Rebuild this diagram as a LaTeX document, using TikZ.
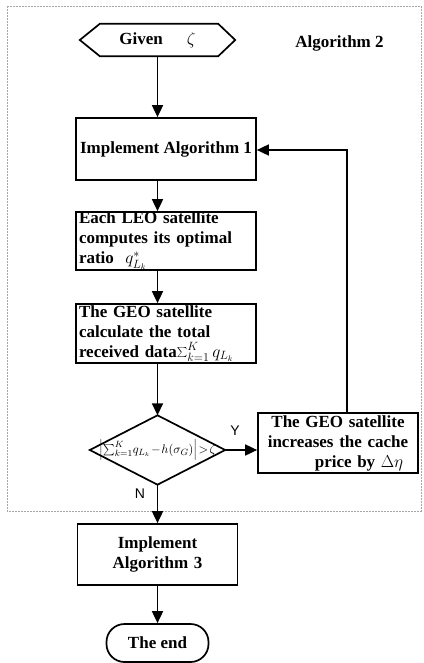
\documentclass[tikz,border=0pt]{standalone}
\usepackage{fontspec}
\setmainfont{Liberation Serif}
\newfontfamily\labfont{Liberation Sans}
\usetikzlibrary{arrows.meta}
\begin{document}
\begin{tikzpicture}[x=1pt,y=-1pt,
  box/.style={draw, line width=1.7pt, rectangle, inner sep=0pt, font=\fontsize{17}{20}\selectfont\bfseries},
  plain/.style={inner sep=0pt, font=\fontsize{17}{20}\selectfont\bfseries},
  arr/.style={line width=1.7pt, -{Triangle[length=12pt,width=11pt]}},
  lab/.style={inner sep=0pt, font=\labfont\fontsize{14}{16}\selectfont}]
\useasboundingbox (0,0) rectangle (423,663);
\draw[gray!70, line width=0.5pt, dash pattern=on 2pt off 1pt] (7,6) rectangle (421,511);

% start hexagon
\node[plain, minimum width=155pt, minimum height=32pt] (given) at (157.5,40) {Given\hspace{24pt}$\zeta$\hspace{26pt}};
\draw[line width=1.7pt] (given.west) -- ([xshift=20pt]given.north west) -- ([xshift=-17pt]given.north east)
  -- (given.east) -- ([xshift=-17pt]given.south east) -- ([xshift=20pt]given.south west) -- cycle;
\node[plain] (alg) at (339.5,43) {Algorithm 2};

\node[box, minimum width=180pt, minimum height=62pt] (box1) at (166,149) {Implement Algorithm 1};
\node[box, minimum width=180pt, minimum height=58pt, text width=174pt, align=left] (box2) at (166,241)
  {Each LEO satellite\\ computes its optimal\\ ratio\ \ $q^{*}_{L_k}$};
\node[box, minimum width=180pt, minimum height=59pt, text width=174pt, align=left] (box3) at (166,333.5)
  {The GEO satellite\\ calculate the total\\ received data$\sum\nolimits_{k=1}^{K} q_{L_k}$};

\node[inner sep=0pt, minimum width=135pt, minimum height=69pt, font=\fontsize{11}{13}\selectfont] (dia) at (157.5,450)
  {\scalebox{1.13}{$\left|\sum\nolimits_{k=1}^{K}\! q_{L_k} \!-\! h(\sigma_G)\right|\!>\!\zeta$}};
\draw[line width=1.7pt] (dia.north) -- (dia.east) -- (dia.south) -- (dia.west) -- cycle;

\node[box, minimum width=160pt, minimum height=60pt, text width=156pt, align=center] (rbox) at (338,443)
  {The GEO satellite\\ increases the cache\\ \hspace*{42pt}price by $\Delta\eta$};

\node[box, minimum width=160pt, minimum height=61pt, text width=156pt, align=center] (box4) at (157.5,554.5)
  {Implement\\ Algorithm 3};
\node[box, rounded corners=18pt, minimum width=102pt, minimum height=38pt] (endn) at (157.5,643) {The end};

\node[lab] (ylab) at (235,431) {Y};
\node[lab] (nlab) at (140,494) {N};

% connectors
\draw[arr] (given.south) -- (given.south |- box1.north);
\draw[arr] (box1.south -| given) -- (box2.north -| given);
\draw[arr] (box2.south -| given) -- (box3.north -| given);
\draw[arr] (box3.south -| given) -- (dia.north);
\draw[arr] (dia.east) -- (dia.east -| rbox.west);
\draw[arr] (dia.south) -- (box4.north);
\draw[arr] (box4.south) -- (endn.north);
\coordinate (fb) at (347,150);
\draw[arr] (rbox.north -| fb) -- (fb) -- (fb -| box1.east);
\end{tikzpicture}
\end{document}
